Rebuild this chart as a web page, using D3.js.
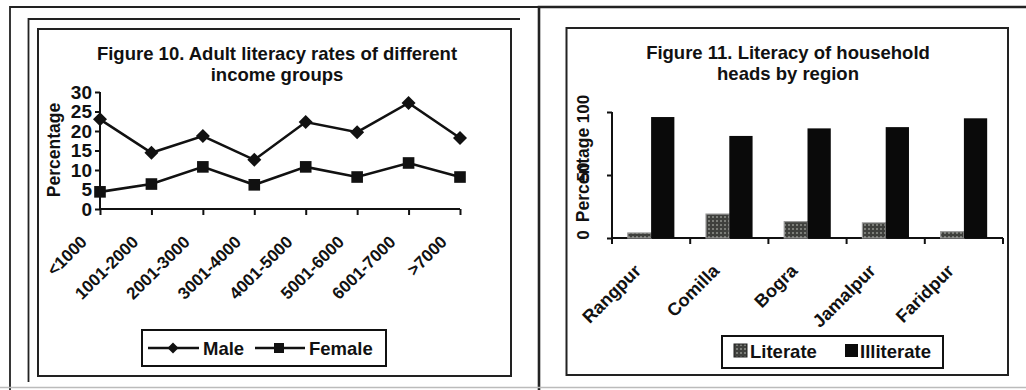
<!DOCTYPE html>
<html>
<head>
<meta charset="utf-8">
<script src="https://cdn.jsdelivr.net/npm/d3@7"></script>
<style>
  html, body { margin: 0; padding: 0; background: #fff; }
  svg { display: block; }
  text { font-family: "Liberation Sans", Arial, sans-serif; font-weight: bold; fill: #111; }
</style>
</head>
<body>
<svg id="chart" width="1026" height="390"></svg>
<script>
// ---- Figure 10: adult literacy by income group ----
const incomeGroups = ["<1000", "1001-2000", "2001-3000", "3001-4000", "4001-5000", "5001-6000", "6001-7000", ">7000"];
const maleRates   = [23, 14.4, 18.7, 12.6, 22.3, 19.7, 27.2, 18.2];
const femaleRates = [4.4, 6.4, 10.8, 6.2, 10.8, 8.2, 11.8, 8.2];
const rateTicks = [0, 5, 10, 15, 20, 25, 30];

// ---- Figure 11: literacy of household heads by region ----
const regions = ["Rangpur", "Comilla", "Bogra", "Jamalpur", "Faridpur"];
const literatePct   = [4, 19, 13, 12, 5];
const illiteratePct = [96, 81, 87, 88, 95];
const pctTicks = [0, 50, 100];

const svg = d3.select("#chart");
const ink = "#111";

// pattern for the "Literate" bars
const defs = svg.append("defs");
const pat = defs.append("pattern").attr("id", "litPattern")
  .attr("width", 4).attr("height", 4).attr("patternUnits", "userSpaceOnUse");
pat.append("rect").attr("width", 4).attr("height", 4).attr("fill", "#3f403d");
pat.append("rect").attr("x", 0).attr("y", 0).attr("width", 2).attr("height", 2).attr("fill", "#7b7d78");

// ---- page frames ----
const frames = svg.append("g").attr("fill", "none").attr("stroke", "#222");
frames.append("path").attr("stroke-width", 1.8).attr("d", "M10,390 V7 H539");
frames.append("path").attr("stroke-width", 1.8).attr("d", "M28.5,382 V19 H520");
frames.append("rect").attr("stroke-width", 2).attr("x", 38).attr("y", 29).attr("width", 473).attr("height", 347);
frames.append("path").attr("stroke-width", 2.6).attr("d", "M539,390 V7 H1026");
frames.append("rect").attr("stroke-width", 2).attr("x", 566.5).attr("y", 28).attr("width", 441.5).attr("height", 347);
frames.append("line").attr("stroke", "#bbb").attr("stroke-width", 1.5)
  .attr("x1", 0).attr("x2", 1026).attr("y1", 387.5).attr("y2", 387.5);

// ================= Figure 10 =================
const g1 = svg.append("g");
g1.append("text").attr("x", 277).attr("y", 60).attr("text-anchor", "middle").attr("font-size", 18.5)
  .text("Figure 10. Adult literacy rates of different");
g1.append("text").attr("x", 277).attr("y", 81).attr("text-anchor", "middle").attr("font-size", 18.5)
  .text("income groups");

const x1 = d3.scalePoint().domain(incomeGroups).range([100, 460]);
const y1 = d3.scaleLinear().domain([0, 30]).range([209, 92]);

const yAxis1 = g1.append("g").attr("transform", "translate(100,0)")
  .call(d3.axisLeft(y1).tickValues(rateTicks).tickSize(5).tickPadding(3));
const xAxis1 = g1.append("g").attr("transform", "translate(0,209)")
  .call(d3.axisBottom(x1).tickSize(6).tickFormat(""));
[yAxis1, xAxis1].forEach(a => {
  a.select(".domain").attr("stroke", ink).attr("stroke-width", 2);
  a.selectAll(".tick line").attr("stroke", ink).attr("stroke-width", 2);
});
yAxis1.select(".domain").attr("d", "M0,92V209");
xAxis1.select(".domain").attr("d", "M100,0H460");
yAxis1.selectAll(".tick text").attr("font-size", 19).attr("fill", ink)
  .attr("font-family", "Liberation Sans, Arial, sans-serif").attr("font-weight", "bold");

// rotated category labels
g1.append("g").selectAll("text").data(incomeGroups).join("text")
  .attr("font-size", 17).attr("text-anchor", "end")
  .attr("transform", d => `translate(${x1(d) - 12},${209 + 34}) rotate(-45)`)
  .text(d => d);

g1.append("text").attr("font-size", 17.5).attr("text-anchor", "middle")
  .attr("transform", "translate(60,150) rotate(-90)").text("Percentage");

const line1 = d3.line().x((d, i) => x1(incomeGroups[i])).y(d => y1(d));
const diamond = "M0,-7L7,0L0,7L-7,0Z";
const square = d3.symbol(d3.symbolSquare, 135)();

g1.append("path").datum(maleRates).attr("d", line1)
  .attr("fill", "none").attr("stroke", ink).attr("stroke-width", 2.6);
g1.append("path").datum(femaleRates).attr("d", line1)
  .attr("fill", "none").attr("stroke", ink).attr("stroke-width", 2.6);
g1.append("g").selectAll("path").data(maleRates).join("path")
  .attr("d", diamond).attr("fill", ink)
  .attr("transform", (d, i) => `translate(${x1(incomeGroups[i])},${y1(d)})`);
g1.append("g").selectAll("path").data(femaleRates).join("path")
  .attr("d", square).attr("fill", ink)
  .attr("transform", (d, i) => `translate(${x1(incomeGroups[i])},${y1(d)})`);

// legend
const lg1 = g1.append("g");
lg1.append("rect").attr("x", 142).attr("y", 330).attr("width", 244).attr("height", 36)
  .attr("fill", "#fff").attr("stroke", ink).attr("stroke-width", 2);
lg1.append("line").attr("x1", 148).attr("x2", 199).attr("y1", 348).attr("y2", 348).attr("stroke", ink).attr("stroke-width", 2.4);
lg1.append("path").attr("d", "M0,-5.5L5.5,0L0,5.5L-5.5,0Z").attr("fill", ink).attr("transform", "translate(173,348)");
lg1.append("text").attr("x", 203).attr("y", 355).attr("font-size", 18.5).text("Male");
lg1.append("line").attr("x1", 255).attr("x2", 305).attr("y1", 348).attr("y2", 348).attr("stroke", ink).attr("stroke-width", 2.4);
lg1.append("path").attr("d", d3.symbol(d3.symbolSquare, 100)()).attr("fill", ink).attr("transform", "translate(279,348)");
lg1.append("text").attr("x", 309).attr("y", 355).attr("font-size", 18.5).text("Female");

// ================= Figure 11 =================
const g2 = svg.append("g");
g2.append("text").attr("x", 788).attr("y", 59).attr("text-anchor", "middle").attr("font-size", 18.5)
  .text("Figure 11. Literacy of household");
g2.append("text").attr("x", 788).attr("y", 80).attr("text-anchor", "middle").attr("font-size", 18.5)
  .text("heads by region");

const x2 = d3.scaleBand().domain(regions).range([612, 1003]).paddingInner(0).paddingOuter(0);
const series = ["Literate", "Illiterate"];
const xs = d3.scaleBand().domain(series).range([0, x2.bandwidth()]).paddingInner(0).paddingOuter(0.68);
const y2 = d3.scaleLinear().domain([0, 100]).range([238, 112]);

const yAxis2 = g2.append("g").attr("transform", "translate(612,0)")
  .call(d3.axisLeft(y2).tickValues(pctTicks).tickSize(5).tickFormat(""));
const xAxis2 = g2.append("g").attr("transform", "translate(0,238)")
  .call(d3.axisBottom(x2).tickSize(0).tickFormat(""));
xAxis2.selectAll(".tick").remove();
[yAxis2, xAxis2].forEach(a => {
  a.select(".domain").attr("stroke", ink).attr("stroke-width", 2);
  a.selectAll(".tick line").attr("stroke", ink).attr("stroke-width", 2);
});
yAxis2.select(".domain").attr("d", "M0,112V238");
xAxis2.select(".domain").attr("d", "M612,0H1003");
// tick marks at band boundaries
const bounds = regions.map(r => x2(r)).concat([x2(regions[regions.length - 1]) + x2.bandwidth()]);
xAxis2.selectAll("line.bound").data(bounds).join("line").attr("class", "bound")
  .attr("x1", d => d).attr("x2", d => d).attr("y1", 0).attr("y2", 6)
  .attr("stroke", ink).attr("stroke-width", 2);

// vertical tick labels sharing the axis title column
g2.append("g").selectAll("text").data(pctTicks).join("text")
  .attr("font-size", 17).attr("text-anchor", "middle")
  .attr("transform", d => `translate(589,${y2(d) - 3}) rotate(-90)`)
  .text(d => d);
g2.append("text").attr("font-size", 17.5).attr("text-anchor", "middle")
  .attr("transform", "translate(589,175) rotate(-90)").text("Percentage");

// bars
const bars = g2.append("g");
bars.selectAll("rect.lit").data(literatePct).join("rect").attr("class", "lit")
  .attr("x", (d, i) => x2(regions[i]) + xs("Literate")).attr("width", xs.bandwidth())
  .attr("y", d => y2(d)).attr("height", d => y2(0) - y2(d))
  .attr("fill", "url(#litPattern)").attr("stroke", "#9a9a9a").attr("stroke-width", 1.2);
bars.selectAll("rect.ill").data(illiteratePct).join("rect").attr("class", "ill")
  .attr("x", (d, i) => x2(regions[i]) + xs("Illiterate")).attr("width", xs.bandwidth())
  .attr("y", d => y2(d)).attr("height", d => y2(0) - y2(d))
  .attr("fill", "#0a0a0a");

g2.append("g").selectAll("text").data(regions).join("text")
  .attr("font-size", 18).attr("text-anchor", "end")
  .attr("transform", d => `translate(${x2(d) + x2.bandwidth() / 2 - 9},${238 + 34}) rotate(-45)`)
  .text(d => d);

// legend
const lg2 = g2.append("g");
lg2.append("rect").attr("x", 722).attr("y", 336).attr("width", 221).attr("height", 32)
  .attr("fill", "#fff").attr("stroke", ink).attr("stroke-width", 2);
lg2.append("rect").attr("x", 734).attr("y", 344).attr("width", 13).attr("height", 13)
  .attr("fill", "url(#litPattern)").attr("stroke", "#222").attr("stroke-width", 1);
lg2.append("text").attr("x", 750).attr("y", 357.5).attr("font-size", 18.5).text("Literate");
lg2.append("rect").attr("x", 845).attr("y", 344).attr("width", 13).attr("height", 13).attr("fill", "#0a0a0a");
lg2.append("text").attr("x", 860).attr("y", 357.5).attr("font-size", 18.5).text("Illiterate");
</script>
</body>
</html>
